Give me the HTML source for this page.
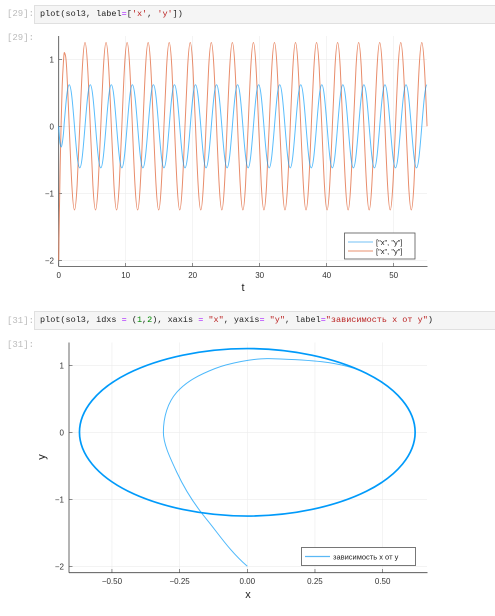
<!DOCTYPE html>
<html><head><meta charset="utf-8">
<style>
body{margin:0;width:495px;height:616px;background:#fff;position:relative;overflow:hidden;font-family:"Liberation Sans","DejaVu Sans",sans-serif}
.prompt{position:absolute;left:7px;font:9px "Liberation Mono",monospace;color:#bbb}
.cell{position:absolute;left:34px;width:470px;height:19px;background:#f5f5f5;border:1px solid #e0e0e0;box-sizing:border-box;font:8.5px "Liberation Mono","DejaVu Sans Mono",monospace;line-height:17px;padding-left:5px;color:#222;white-space:pre}
.op{color:#a2f}.st{color:#b22}.nm{color:#080}
svg{position:absolute;left:0;top:0}
</style></head><body>
<div class="prompt" style="top:9px">[29]:</div>
<div class="cell" style="top:5px">plot(sol3, label<span class="op">=</span>[<span class="st">'x'</span>, <span class="st">'y'</span>])</div>
<div class="prompt" style="top:33px">[29]:</div>
<div class="prompt" style="top:316px">[31]:</div>
<div class="cell" style="top:311px">plot(sol3, idxs <span class="op">=</span> (<span class="nm">1</span>,<span class="nm">2</span>), xaxis <span class="op">=</span> <span class="st">"x"</span>, yaxis<span class="op">=</span> <span class="st">"y"</span>, label<span class="op">=</span><span class="st">"зависимость x от y"</span>)</div>
<div class="prompt" style="top:340px">[31]:</div>
<svg id="svg" width="495" height="616"></svg>
<script>
// transient samples
const transientT = [0, 0.1, 0.22, 0.35, 0.52, 0.7, 0.85];
const transientX = [0, -0.15, -0.26, -0.31, -0.26, -0.12, 0.08];
const transientY = [-2, -1.3, -0.6, 0, 0.6, 0.95, 1.1];
// steady-state samples on grid t = k*DT, starting k=3
const DT = 0.3927;
const steadyX = [
0.44, 0.62, 0.44, 0, -0.44, -0.62, -0.44, 0,
0.44, 0.62, 0.44, 0, -0.44, -0.62, -0.44, 0,
0.44, 0.62, 0.44, 0, -0.44, -0.62, -0.44, 0,
0.44, 0.62, 0.44, 0, -0.44, -0.62, -0.44, 0,
0.44, 0.62, 0.44, 0, -0.44, -0.62, -0.44, 0,
0.44, 0.62, 0.44, 0, -0.44, -0.62, -0.44, 0,
0.44, 0.62, 0.44, 0, -0.44, -0.62, -0.44, 0,
0.44, 0.62, 0.44, 0, -0.44, -0.62, -0.44, 0,
0.44, 0.62, 0.44, 0, -0.44, -0.62, -0.44, 0,
0.44, 0.62, 0.44, 0, -0.44, -0.62, -0.44, 0,
0.44, 0.62, 0.44, 0, -0.44, -0.62, -0.44, 0,
0.44, 0.62, 0.44, 0, -0.44, -0.62, -0.44, 0,
0.44, 0.62, 0.44, 0, -0.44, -0.62, -0.44, 0,
0.44, 0.62, 0.44, 0, -0.44, -0.62, -0.44, 0,
0.44, 0.62, 0.44, 0, -0.44, -0.62, -0.44, 0,
0.44, 0.62, 0.44, 0, -0.44, -0.62, -0.44, 0,
0.44, 0.62, 0.44, 0, -0.44, -0.62, -0.44, 0,
0.44, 0.62];
const steadyY = [
0.88, 0, -0.88, -1.25, -0.88, 0, 0.88, 1.25,
0.88, 0, -0.88, -1.25, -0.88, 0, 0.88, 1.25,
0.88, 0, -0.88, -1.25, -0.88, 0, 0.88, 1.25,
0.88, 0, -0.88, -1.25, -0.88, 0, 0.88, 1.25,
0.88, 0, -0.88, -1.25, -0.88, 0, 0.88, 1.25,
0.88, 0, -0.88, -1.25, -0.88, 0, 0.88, 1.25,
0.88, 0, -0.88, -1.25, -0.88, 0, 0.88, 1.25,
0.88, 0, -0.88, -1.25, -0.88, 0, 0.88, 1.25,
0.88, 0, -0.88, -1.25, -0.88, 0, 0.88, 1.25,
0.88, 0, -0.88, -1.25, -0.88, 0, 0.88, 1.25,
0.88, 0, -0.88, -1.25, -0.88, 0, 0.88, 1.25,
0.88, 0, -0.88, -1.25, -0.88, 0, 0.88, 1.25,
0.88, 0, -0.88, -1.25, -0.88, 0, 0.88, 1.25,
0.88, 0, -0.88, -1.25, -0.88, 0, 0.88, 1.25,
0.88, 0, -0.88, -1.25, -0.88, 0, 0.88, 1.25,
0.88, 0, -0.88, -1.25, -0.88, 0, 0.88, 1.25,
0.88, 0, -0.88, -1.25, -0.88, 0, 0.88, 1.25,
0.88, 0];
const topXTicks = [0, 10, 20, 30, 40, 50];
const topYTicks = [1, 0, -1, -2];
const botXTicks = [-0.5, -0.25, 0, 0.25, 0.5];
const botXTickLabels = ["−0.50", "−0.25", "0.00", "0.25", "0.50"];
const botYTicks = [1, 0, -1, -2];
const legendTop = ['["x", "y"]', '["x", "y"]'];
const legendBot = ["зависимость x от y"];

const NS = "http://www.w3.org/2000/svg";
const svg = document.getElementById("svg");
function mk(tag, attrs, parent) {
  const e = document.createElementNS(NS, tag);
  for (const k in attrs) e.setAttribute(k, attrs[k]);
  (parent || svg).appendChild(e);
  return e;
}
function txt(x, y, s, anchor, size, name, color) {
  const t = mk("text", {x: x, y: y, "text-anchor": anchor, "font-size": size, fill: color || "#333", "font-family": '"Liberation Sans","DejaVu Sans",sans-serif'});
  t.textContent = s;
  
  
  return t;
}
const T = [], X = [], Y = [];
for (let i = 0; i < transientT.length; i++) { T.push(transientT[i]); X.push(transientX[i]); Y.push(transientY[i]); }
for (let i = 0; i < steadyX.length; i++) { T.push((i + transientT.length - 1) * DT > T[T.length - 1] ? (i + 3) * DT : (i + 3) * DT); X.push(steadyX[i]); Y.push(steadyY[i]); }
const NT = transientT.length;
// derivatives: x' = y; y' from finite differences in transient, -4x on limit cycle
const dX = Y.map(v => v);
const dY = X.map((v, i) => {
  if (i >= NT) return -4 * v;
  const a = Math.max(0, i - 1), b = i + 1;
  return (Y[b] - Y[a]) / (T[b] - T[a]);
});
function hermite(i0, i1, fx, fy, dfx, dfy) {
  let d = "M" + fx(i0).toFixed(2) + "," + fy(i0).toFixed(2);
  for (let i = i0; i < i1; i++) {
    const h = (T[i + 1] - T[i]) / 3;
    d += "C" + (fx(i) + dfx(i) * h).toFixed(2) + "," + (fy(i) + dfy(i) * h).toFixed(2) + " " +
      (fx(i + 1) - dfx(i + 1) * h).toFixed(2) + "," + (fy(i + 1) - dfy(i + 1) * h).toFixed(2) + " " +
      fx(i + 1).toFixed(2) + "," + fy(i + 1).toFixed(2);
  }
  return d;
}

// ---- top chart ----
const tx = t => 58.7 + t * 6.7;
const ty = v => 126.3 - v * 67;
for (const v of topXTicks) {
  const g = mk("line", {x1: tx(v), x2: tx(v), y1: 36, y2: 266.5, stroke: "#ececec", "stroke-width": 0.6});
  
  
  mk("line", {x1: tx(v), x2: tx(v), y1: 266.5, y2: 263, stroke: "#444", "stroke-width": 0.6});
  txt(tx(v), 278, String(v), "middle", 8, 'top-x-tick-label');
}
for (const v of topYTicks) {
  const g = mk("line", {x1: 58.7, x2: 427, y1: ty(v), y2: ty(v), stroke: "#ececec", "stroke-width": 0.6});
  
  
  mk("line", {x1: 58.7, x2: 62, y1: ty(v), y2: ty(v), stroke: "#444", "stroke-width": 0.6});
  txt(54, ty(v) + 3, v < 0 ? "−" + (-v) : String(v), "end", 8, 'top-y-tick-label');
}
let a = mk("line", {x1: 58.7, x2: 58.7, y1: 36, y2: 266.5, stroke: "#444", "stroke-width": 0.8});


a = mk("line", {x1: 58.7, x2: 427.5, y1: 266.5, y2: 266.5, stroke: "#444", "stroke-width": 0.8});


txt(243, 291, "t", "middle", 11, 'top-x-axis-title', '#222');
const N = T.length - 1;
let p = mk("path", {d: hermite(0, N, i => tx(T[i]), i => ty(Y[i]), i => 6.7, i => -67 * dY[i]), fill: "none", stroke: "#E26F46", "stroke-opacity": 0.8, "stroke-width": 1});


p = mk("path", {d: hermite(0, N, i => tx(T[i]), i => ty(X[i]), i => 6.7, i => -67 * dX[i]), fill: "none", stroke: "#009AFA", "stroke-opacity": 0.65, "stroke-width": 1});


let lg = mk("rect", {x: 344.5, y: 233, width: 70.5, height: 26, fill: "#fff", stroke: "#555", "stroke-width": 0.8});


const lcol = ["#8fcdf7", "#eea68c"];
legendTop.forEach((s, i) => {
  const l = mk("line", {x1: 348, x2: 373, y1: 242 + i * 9, y2: 242 + i * 9, stroke: lcol[i], "stroke-width": 1.2});
  
  
  txt(376, 245 + i * 9, s, "start", 7.5, 'top-legend-label', '#222');
});

// ---- bottom chart ----
const bx = v => 247.3 + v * 270.7;
const by = v => 432.3 - v * 67;
botXTicks.forEach((v, i) => {
  const g = mk("line", {x1: bx(v), x2: bx(v), y1: 342.5, y2: 572.7, stroke: "#ececec", "stroke-width": 0.6});
  
  
  mk("line", {x1: bx(v), x2: bx(v), y1: 572.7, y2: 569, stroke: "#444", "stroke-width": 0.6});
  txt(bx(v), 584, botXTickLabels[i], "middle", 8, 'bottom-x-tick-label');
});
for (const v of botYTicks) {
  const g = mk("line", {x1: 69, x2: 427, y1: by(v), y2: by(v), stroke: "#ececec", "stroke-width": 0.6});
  
  
  mk("line", {x1: 69, x2: 72.5, y1: by(v), y2: by(v), stroke: "#444", "stroke-width": 0.6});
  txt(64, by(v) + 3, v < 0 ? "−" + (-v) : String(v), "end", 8, 'bottom-y-tick-label');
}
a = mk("line", {x1: 69, x2: 69, y1: 342.5, y2: 572.7, stroke: "#444", "stroke-width": 0.8});


a = mk("line", {x1: 69, x2: 427.5, y1: 572.7, y2: 572.7, stroke: "#444", "stroke-width": 0.8});


txt(248, 598, "x", "middle", 11, 'bottom-x-axis-title', '#222');
const yt = txt(0, 0, "y", "middle", 11, 'bottom-y-axis-title', '#222');
yt.setAttribute("transform", "translate(45,457) rotate(-90)");
p = mk("path", {d: hermite(0, NT, i => bx(X[i]), i => by(Y[i]), i => 270.7 * dX[i], i => -67 * dY[i]), fill: "none", stroke: "#009AFA", "stroke-opacity": 0.7, "stroke-width": 1});


p = mk("path", {d: hermite(NT, N, i => bx(X[i]), i => by(Y[i]), i => 270.7 * dX[i], i => -67 * dY[i]), fill: "none", stroke: "#009AFA", "stroke-width": 1.7});


lg = mk("rect", {x: 301.5, y: 547.5, width: 114, height: 18, fill: "#fff", stroke: "#555", "stroke-width": 0.8});


const bl = mk("line", {x1: 305, x2: 330, y1: 556.5, y2: 556.5, stroke: "#5ab8f5", "stroke-width": 1.2});


txt(333, 559.5, legendBot[0], "start", 7.5, 'bottom-legend-label', '#222');
</script>
</body></html>
